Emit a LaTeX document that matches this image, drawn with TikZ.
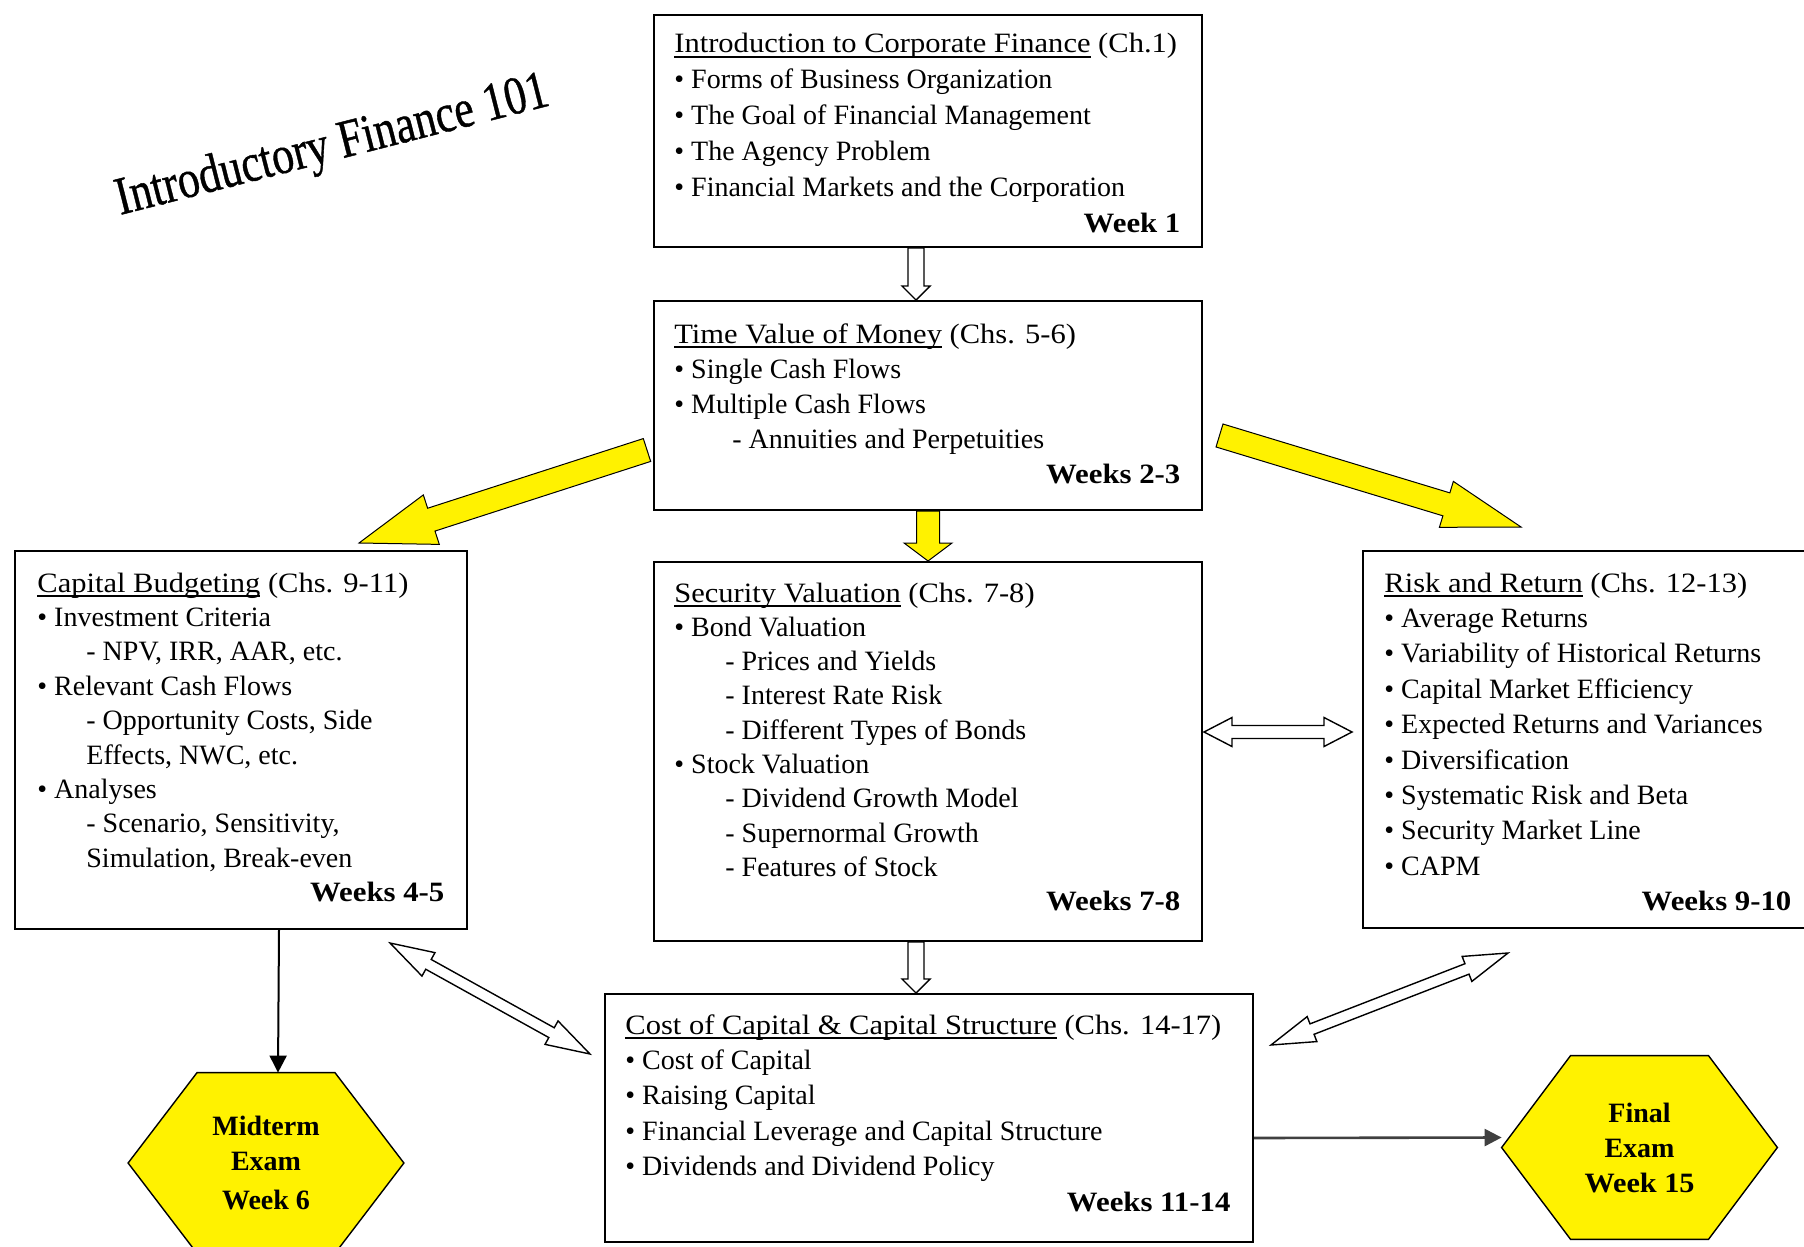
\documentclass[tikz,border=0pt]{standalone}
\usepackage{fontspec}
\setmainfont{Liberation Serif}
\newfontfamily\titlefont{Liberation Serif}[FakeBold=0.8]
\usepackage{graphicx}
\usetikzlibrary{calc,arrows.meta}

\newcommand\undl[1]{\setbox0=\hbox{#1}\rlap{\vrule height -1.5pt depth 2.3pt width \wd0\relax}\box0\relax}
\newcommand\boxtext[3]{\parbox[t]{#1}{\fontsize{14}{#2}\selectfont #3}}
\newcommand\ttl[2]{\mbox{\scalebox{1.09}[1]{\undl{#1} #2}}\par}
\newcommand\bul[1]{\mbox{•\ #1}\par}
\newcommand\subl[2]{\mbox{\hspace*{#1}#2}\par}
\newcommand\wk[1]{\hspace*{\fill}\scalebox{1.1}[1]{\textbf{#1}}\par}

% single block arrow: style, from, to, shaft half width, head half width, head length
\newcommand\singlearrow[6]{%
  \path[#1] let \p1=($(#3)-(#2)$), \n1={atan2(\y1,\x1)} in
    ($(#2)+(\n1+90:#4)$) -- ($(#3)+(\n1+180:#6)+(\n1+90:#4)$) --
    ($(#3)+(\n1+180:#6)+(\n1+90:#5)$) -- (#3) --
    ($(#3)+(\n1+180:#6)+(\n1-90:#5)$) -- ($(#3)+(\n1+180:#6)+(\n1-90:#4)$) --
    ($(#2)+(\n1-90:#4)$) -- cycle;}
% double block arrow
\newcommand\doublearrow[6]{%
  \path[#1] let \p1=($(#3)-(#2)$), \n1={atan2(\y1,\x1)} in
    (#2) -- ($(#2)+(\n1:#6)+(\n1+90:#5)$) -- ($(#2)+(\n1:#6)+(\n1+90:#4)$) --
    ($(#3)+(\n1+180:#6)+(\n1+90:#4)$) -- ($(#3)+(\n1+180:#6)+(\n1+90:#5)$) --
    (#3) --
    ($(#3)+(\n1+180:#6)+(\n1-90:#5)$) -- ($(#3)+(\n1+180:#6)+(\n1-90:#4)$) --
    ($(#2)+(\n1:#6)+(\n1-90:#4)$) -- ($(#2)+(\n1:#6)+(\n1-90:#5)$) -- cycle;}

\tikzset{
  box/.style={draw=black, line width=1pt, fill=white, inner sep=0pt, anchor=north west},
  txt/.style={inner sep=0pt, anchor=base west},
  hollow/.style={draw=black, line width=0.7pt, fill=white, line join=miter},
  yellowarrow/.style={draw=black, line width=0.5pt, fill=yellow, line join=miter},
  hexbox/.style={inner sep=0pt, shape=rectangle},
  hexfill/.style={draw=black, line width=0.7pt, fill=yellow, line join=miter},
  examtext/.style={inner sep=0pt, align=center, font=\fontsize{14}{17.5}\selectfont\bfseries},
  plainarrow/.style={draw=black, line width=1pt, -{Triangle[length=8.5pt,width=8.5pt]}},
}

\begin{document}
\begin{tikzpicture}[x=0.5pt,y=-0.5pt]
\useasboundingbox (0,0) rectangle (1804,1247);
\fill[white] (0,0) rectangle (1804,1247);

% title
\node[rotate=14.3, anchor=base west, inner sep=0pt] (title) at (120,215)
  {\scalebox{0.81}[1]{\fontsize{27}{30}\titlefont Introductory Finance 101}};

% boxes
\node[box, minimum width=274pt, minimum height=116pt] (intro) at (653,14) {};
\node[box, minimum width=274pt, minimum height=104.5pt] (tvm) at (653,300) {};
\node[box, minimum width=226pt, minimum height=189pt] (capbud) at (14,550) {};
\node[box, minimum width=274pt, minimum height=189.5pt] (secval) at (653,561) {};
\node[box, minimum width=225pt, minimum height=188.5pt] (risk) at (1362,550) {};
\node[box, minimum width=324pt, minimum height=124pt] (costcap) at (604,993) {};

% box texts
\node[txt] (introtxt) at (674,53) {\boxtext{253pt}{17.95pt}{%
  \ttl{Introduction to Corporate Finance}{(Ch.1)}%
  \bul{Forms of Business Organization}%
  \bul{The Goal of Financial Management}%
  \bul{The Agency Problem}%
  \bul{Financial Markets and the Corporation}%
  \wk{Week 1}}};

\node[txt] (tvmtxt) at (674,343) {\boxtext{253pt}{17.5pt}{%
  \ttl{Time Value of Money}{(Chs. 5-6)}%
  \bul{Single Cash Flows}%
  \bul{Multiple Cash Flows}%
  \subl{29pt}{- Annuities and Perpetuities}%
  \wk{Weeks 2-3}}};

\node[txt] (capbudtxt) at (37,592) {\boxtext{203.5pt}{17.2pt}{%
  \ttl{Capital Budgeting}{(Chs. 9-11)}%
  \bul{Investment Criteria}%
  \subl{24.5pt}{- NPV, IRR, AAR, etc.}%
  \bul{Relevant Cash Flows}%
  \subl{24.5pt}{- Opportunity Costs, Side}%
  \subl{24.5pt}{Effects, NWC, etc.}%
  \bul{Analyses}%
  \subl{24.5pt}{- Scenario, Sensitivity,}%
  \subl{24.5pt}{Simulation, Break-even}%
  \wk{Weeks 4-5}}};

\node[txt] (secvaltxt) at (674,602) {\boxtext{253pt}{17.15pt}{%
  \ttl{Security Valuation}{(Chs. 7-8)}%
  \bul{Bond Valuation}%
  \subl{25.5pt}{- Prices and Yields}%
  \subl{25.5pt}{- Interest Rate Risk}%
  \subl{25.5pt}{- Different Types of Bonds}%
  \bul{Stock Valuation}%
  \subl{25.5pt}{- Dividend Growth Model}%
  \subl{25.5pt}{- Supernormal Growth}%
  \subl{25.5pt}{- Features of Stock}%
  \wk{Weeks 7-8}}};

\node[txt] (risktxt) at (1384,592) {\boxtext{203.5pt}{17.7pt}{%
  \ttl{Risk and Return}{(Chs. 12-13)}%
  \bul{Average Returns}%
  \bul{Variability of Historical Returns}%
  \bul{Capital Market Efficiency}%
  \bul{Expected Returns and Variances}%
  \bul{Diversification}%
  \bul{Systematic Risk and Beta}%
  \bul{Security Market Line}%
  \bul{CAPM}%
  \wk{Weeks 9-10}}};

\node[txt] (costcaptxt) at (625,1034) {\boxtext{302.5pt}{17.7pt}{%
  \ttl{Cost of Capital \& Capital Structure}{(Chs. 14-17)}%
  \bul{Cost of Capital}%
  \bul{Raising Capital}%
  \bul{Financial Leverage and Capital Structure}%
  \bul{Dividends and Dividend Policy}%
  \wk{Weeks 11-14}}};

% exam hexagons
\node[hexbox, minimum width=137.5pt, minimum height=90pt] (mid) at (266,1163) {};
\draw[hexfill] (mid.west) -- ($(mid.north west)!0.5!(mid.north)$) -- ($(mid.north)!0.5!(mid.north east)$)
  -- (mid.east) -- ($(mid.south east)!0.5!(mid.south)$) -- ($(mid.south)!0.5!(mid.south west)$) -- cycle;
\node[examtext] (midtxt) at (mid.center) {Midterm\\Exam\\[2pt]Week 6};

\node[hexbox, minimum width=137.5pt, minimum height=91.5pt] (final) at (1639.5,1147.5) {};
\draw[hexfill] (final.west) -- ($(final.north west)!0.5!(final.north)$) -- ($(final.north)!0.5!(final.north east)$)
  -- (final.east) -- ($(final.south east)!0.5!(final.south)$) -- ($(final.south)!0.5!(final.south west)$) -- cycle;
\node[examtext] (finaltxt) at (final.center) {Final\\Exam\\\scalebox{1.08}[1]{Week 15}};

% arrow end points
\coordinate (h1a) at ([xshift=-6pt]intro.south);
\coordinate (h1b) at ([xshift=-6pt]tvm.north);
\coordinate (h2a) at ([xshift=-6pt]secval.south);
\coordinate (h2b) at ([xshift=-6.5pt]costcap.north);
\coordinate (yda) at (tvm.south);
\coordinate (ydb) at (secval.north);
\coordinate (yla) at (647,450);
\coordinate (ylb) at (359,543);
\coordinate (yra) at (1219.5,435.5);
\coordinate (yrb) at (1521,527);
\coordinate (sra) at (1204,732);
\coordinate (srb) at (1352,732);
\coordinate (cca) at (390,943);
\coordinate (ccb) at (590,1054);
\coordinate (cra) at (1271,1045);
\coordinate (crb) at (1508,953);

% hollow arrows
\singlearrow{hollow}{h1a}{h1b}{4pt}{7pt}{7pt}
\singlearrow{hollow}{h2a}{h2b}{4pt}{7pt}{7pt}
\doublearrow{hollow}{sra}{srb}{3.25pt}{7.25pt}{14pt}
\doublearrow{hollow}{cca}{ccb}{2.8pt}{6.7pt}{22pt}
\doublearrow{hollow}{cra}{crb}{2.8pt}{6.7pt}{22pt}

% yellow arrows
\singlearrow{yellowarrow}{yda}{ydb}{5.75pt}{12pt}{9pt}
\singlearrow{yellowarrow}{yla}{ylb}{6pt}{13pt}{38pt}
\singlearrow{yellowarrow}{yra}{yrb}{6pt}{12pt}{39pt}

% plain arrows
\draw[plainarrow] ([xshift=19pt]capbud.south) -- ([xshift=6pt]mid.north);
\draw[plainarrow, draw=black!75, line width=1.3pt] ([yshift=-10pt]costcap.east) -- ([yshift=5pt]final.west);
\end{tikzpicture}
\end{document}
